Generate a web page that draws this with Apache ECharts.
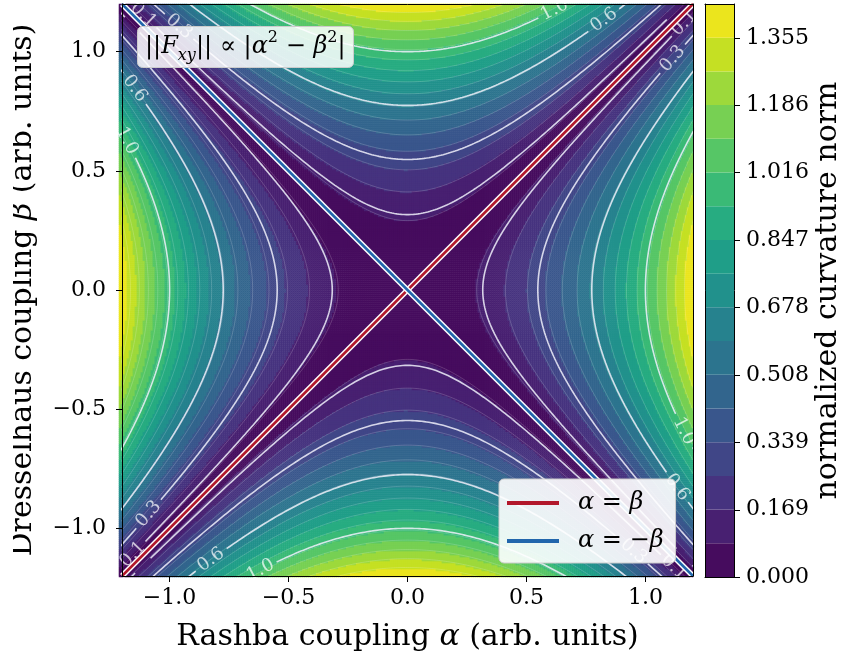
<!DOCTYPE html>
<html>
<head>
<meta charset="utf-8">
<script src="https://cdn.jsdelivr.net/npm/echarts@6/dist/echarts.min.js"></script>
<style>
  html, body { margin: 0; padding: 0; background: #fff; }
  #chart { width: 845px; height: 657px; }
</style>
</head>
<body>
<div id="chart"></div>
<script>
// axis ranges and sampling of the map
const alphaRange = [-1.2, 1.2]
const betaRange = [-1.2, 1.2]
const cellsPerAxis = 288
// filled contour levels: 17 bands from 0 to 1.44
const levelCount = 17
const levelMax = 1.44
// white labelled contours
const labeledLevels = [0.1, 0.3, 0.6, 1.0]
// where the contour labels sit: [level, branch, position along the branch]
const labelSpots = [
  [0.1, 'top', -1.11], [0.1, 'right', 1.12], [0.1, 'left', -1.11], [0.1, 'bottom', 1.12],
  [0.3, 'top', -0.96], [0.3, 'right', 0.97], [0.3, 'left', -0.94], [0.3, 'bottom', 0.95],
  [0.6, 'left', 0.845], [0.6, 'top', 0.826], [0.6, 'bottom', -0.826], [0.6, 'right', -0.828],
  [1.0, 'left', 0.626], [1.0, 'top', 0.618], [1.0, 'bottom', -0.618], [1.0, 'right', -0.592]
]
const axisTicks = [-1.0, -0.5, 0.0, 0.5, 1.0]
const colorbarTicks = [0.000, 0.169, 0.339, 0.508, 0.678, 0.847, 1.016, 1.186, 1.355]
const lineAlphaEqBeta = [[-1.2, -1.2], [1.2, 1.2]]
const lineAlphaEqMinusBeta = [[-1.2, 1.2], [1.2, -1.2]]

const FONT = 'DejaVu Serif'

// viridis colour stops (style helper)
const viridisStops = ['#440154', '#471365', '#482475', '#463480', '#414487', '#3b528b', '#355f8d',
  '#2f6c8e', '#2a788e', '#25848e', '#21918c', '#1e9c89', '#22a884', '#2fb47c', '#44bf70',
  '#5ec962', '#7ad151', '#9bd93c', '#bddf26', '#dfe318', '#fde725']
const viridis = (t) => {
  const pos = Math.min(Math.max(t, 0), 1) * (viridisStops.length - 1)
  const i = Math.min(Math.floor(pos), viridisStops.length - 2)
  const f = pos - i
  const a = viridisStops[i], b = viridisStops[i + 1]
  const ch = (h, k) => parseInt(h.substr(1 + 2 * k, 2), 16)
  const c = [0, 1, 2].map(k => Math.round(ch(a, k) + (ch(b, k) - ch(a, k)) * f))
  return `rgb(${c[0]},${c[1]},${c[2]})`
}

const levelStep = levelMax / levelCount
const levels = []
for (let k = 0; k <= levelCount; k++) levels.push(k * levelStep)
const bandColors = []
for (let k = 0; k < levelCount; k++) bandColors.push(viridis((k + 0.5) / levelCount))

// curvature norm on the grid: |alpha^2 - beta^2|
const cellIndex = []
for (let i = 0; i < cellsPerAxis; i++) cellIndex.push(i)
const cellCentre = (range, i) => range[0] + (i + 0.5) * (range[1] - range[0]) / cellsPerAxis
const fieldData = []
for (let i = 0; i < cellsPerAxis; i++) {
  const a = cellCentre(alphaRange, i)
  for (let j = 0; j < cellsPerAxis; j++) {
    const b = cellCentre(betaRange, j)
    fieldData.push([i, j, Math.abs(a * a - b * b)])
  }
}

// iso-lines of the same map
const branchPoint = (c, branch, t) => {
  const r = Math.sqrt(t * t + c)
  if (branch === 'left') return [-r, t]
  if (branch === 'right') return [r, t]
  if (branch === 'top') return [t, r]
  return [t, -r]
}
const branchTangent = (c, branch, t) => {
  const r = Math.sqrt(t * t + c)
  if (branch === 'left') return [-t / r, 1]
  if (branch === 'right') return [t / r, 1]
  if (branch === 'top') return [1, t / r]
  return [1, -t / r]
}
const pxX = 574 / 2.4, pxY = 573 / 2.4
const gapRadius = 18

const isoLine = (c, spots) => {
  const pts = []
  const centres = spots.map(s => branchPoint(s[0], s[1], s[2]))
  ;['left', 'right', 'top', 'bottom'].forEach(branch => {
    for (let t = -1.3; t <= 1.3001; t += 0.005) {
      const p = branchPoint(c, branch, t)
      const hidden = centres.some(q => Math.hypot((p[0] - q[0]) * pxX, (p[1] - q[1]) * pxY) < gapRadius)
      pts.push(hidden ? null : p)
    }
    pts.push(null)
  })
  return pts
}

const series = []
series.push({
  type: 'heatmap',
  xAxisIndex: 0,
  yAxisIndex: 0,
  data: fieldData,
  progressive: 0,
  silent: true,
  emphasis: { disabled: true }
})
levels.slice(1, -1).forEach(c => {
  series.push({
    type: 'line',
    name: 'level-' + c.toFixed(3),
    xAxisIndex: 1,
    yAxisIndex: 1,
    data: isoLine(c, []),
    symbol: 'none',
    silent: true,
    connectNulls: false,
    lineStyle: { color: 'rgba(255,255,255,0.3)', width: 0.6 }
  })
})
labeledLevels.forEach(c => {
  const spots = labelSpots.filter(s => s[0] === c)
  series.push({
    type: 'line',
    name: 'contour-' + c,
    xAxisIndex: 1,
    yAxisIndex: 1,
    data: isoLine(c, spots),
    symbol: 'none',
    silent: true,
    connectNulls: false,
    lineStyle: { color: 'rgba(240,240,250,0.85)', width: 1.6 }
  })
})
series.push({
  type: 'scatter',
  name: 'contour-labels',
  xAxisIndex: 1,
  yAxisIndex: 1,
  symbolSize: 1,
  silent: true,
  itemStyle: { color: 'rgba(0,0,0,0)' },
  label: {
    show: true,
    position: 'inside',
    formatter: '{b}',
    color: 'rgba(255,255,255,0.9)',
    fontFamily: FONT,
    fontSize: 18
  },
  data: labelSpots.map(s => {
    const tg = branchTangent(s[0], s[1], s[2])
    let ang = Math.atan2(tg[1] * pxY, tg[0] * pxX) * 180 / Math.PI
    if (ang > 90) ang -= 180
    if (ang < -90) ang += 180
    return { name: s[0].toFixed(1), value: branchPoint(s[0], s[1], s[2]), label: { rotate: ang } }
  })
})
const diagonal = (name, data, color) => {
  series.push({
    type: 'line', name: name + '-outline', xAxisIndex: 1, yAxisIndex: 1, data,
    symbol: 'none', silent: true, lineStyle: { color: '#ffffff', width: 5.5 }
  })
  series.push({
    type: 'line', name, xAxisIndex: 1, yAxisIndex: 1, data, color,
    symbol: 'none', silent: true, lineStyle: { color, width: 2.5 }
  })
}
diagonal('α = β', lineAlphaEqBeta, '#b2182b')
diagonal('α = −β', lineAlphaEqMinusBeta, '#2166ac')

bandColors.forEach((color, k) => {
  series.push({
    type: 'bar',
    name: 'band-' + k,
    xAxisIndex: 3,
    yAxisIndex: 3,
    stack: 'colorbar',
    barWidth: '100%',
    silent: true,
    data: [levelStep],
    itemStyle: { color }
  })
})

const tickFmt = v => (v < 0 ? '−' : '') + Math.abs(v).toFixed(1)
const axisLineStyle = { show: true, onZero: false, lineStyle: { color: '#000', width: 1 } }
const tickText = { fontFamily: FONT, fontSize: 22, color: '#000' }
const nameText = {
  fontFamily: FONT, fontSize: 30, color: '#000',
  rich: { i: { fontFamily: FONT, fontSize: 30, fontStyle: 'italic', color: '#000' } }
}

const option = {
  animation: false,
  backgroundColor: '#fff',
  title: {
    text: '||{it|F}{sub|xy}|| ∝ |{it|α}{sup|2} − {it|β}{sup|2}|',
    left: 137,
    top: 26,
    padding: [4, 8, 4, 8],
    backgroundColor: 'rgba(255,255,255,0.85)',
    borderColor: '#cccccc',
    borderWidth: 1,
    borderRadius: 5,
    textStyle: {
      fontFamily: FONT, fontSize: 24, fontWeight: 'normal', color: '#000', lineHeight: 34,
      rich: {
        it: { fontFamily: FONT, fontSize: 24, fontStyle: 'italic', color: '#000', lineHeight: 34 },
        sub: { fontFamily: FONT, fontSize: 16, fontStyle: 'italic', color: '#000', verticalAlign: 'bottom', lineHeight: 16 },
        sup: { fontFamily: FONT, fontSize: 16, color: '#000', verticalAlign: 'top', lineHeight: 16 }
      }
    }
  },
  legend: {
    data: ['α = β', 'α = −β'],
    orient: 'vertical',
    left: 499,
    top: 479,
    padding: [12, 12, 10, 8],
    itemGap: 14,
    itemWidth: 52,
    itemHeight: 4,
    icon: 'rect',
    backgroundColor: 'rgba(255,255,255,0.9)',
    borderColor: '#cccccc',
    borderWidth: 1,
    borderRadius: 5,
    formatter: name => name === 'α = β' ? '{s|}{i|α} = {i|β}' : '{s|}{i|α} = −{i|β}',
    textStyle: {
      fontFamily: FONT, fontSize: 24, color: '#000',
      rich: {
        s: { width: 14 },
        i: { fontFamily: FONT, fontSize: 24, fontStyle: 'italic', color: '#000' }
      }
    }
  },
  visualMap: {
    type: 'piecewise',
    show: false,
    seriesIndex: 0,
    pieces: bandColors.map((color, k) => ({ gte: levels[k], lt: k === levelCount - 1 ? levelMax + 1 : levels[k + 1], color }))
  },
  // the reference figure cuts the left edge of the y-axis title
  graphic: [{ type: 'rect', left: 0, top: 0, z: 100, shape: { width: 13, height: 657 }, style: { fill: '#fff' } }],
  grid: [
    { left: 119, top: 4, width: 574, height: 573 },
    { left: 119, top: 4, width: 574, height: 573 },
    { left: 705, top: 4, width: 29, height: 573 }
  ],
  xAxis: [
    { gridIndex: 0, type: 'category', data: cellIndex, show: false },
    {
      gridIndex: 1, type: 'value', min: alphaRange[0], max: alphaRange[1], position: 'bottom', z: 10,
      axisLine: axisLineStyle,
      axisTick: { show: true, customValues: axisTicks, length: 6, lineStyle: { color: '#000' } },
      axisLabel: { customValues: axisTicks, formatter: tickFmt, margin: 11, ...tickText },
      splitLine: { show: false },
      name: 'Rashba coupling {i|α} (arb. units)',
      nameLocation: 'middle',
      nameGap: 46,
      nameTextStyle: nameText
    },
    {
      gridIndex: 1, type: 'value', min: alphaRange[0], max: alphaRange[1], position: 'top', z: 10,
      axisLine: axisLineStyle, axisTick: { show: false }, axisLabel: { show: false }, splitLine: { show: false }
    },
    {
      gridIndex: 2, type: 'category', data: ['cb'], position: 'bottom', z: 10,
      axisLine: axisLineStyle, axisTick: { show: false }, axisLabel: { show: false }
    },
    {
      gridIndex: 2, type: 'category', data: ['cb'], position: 'top', z: 10,
      axisLine: axisLineStyle, axisTick: { show: false }, axisLabel: { show: false }
    }
  ],
  yAxis: [
    { gridIndex: 0, type: 'category', data: cellIndex, show: false },
    {
      gridIndex: 1, type: 'value', min: betaRange[0], max: betaRange[1], position: 'left', z: 10,
      axisLine: axisLineStyle,
      axisTick: { show: true, customValues: axisTicks, length: 6, lineStyle: { color: '#000' } },
      axisLabel: { customValues: axisTicks, formatter: tickFmt, margin: 16, ...tickText },
      splitLine: { show: false },
      name: 'Dresselhaus coupling {i|β} (arb. units)',
      nameLocation: 'middle',
      nameRotate: 90,
      nameGap: 84,
      nameTextStyle: nameText
    },
    {
      gridIndex: 1, type: 'value', min: betaRange[0], max: betaRange[1], position: 'right', z: 10,
      axisLine: axisLineStyle, axisTick: { show: false }, axisLabel: { show: false }, splitLine: { show: false }
    },
    {
      gridIndex: 2, type: 'value', min: 0, max: levelMax, position: 'right', z: 10,
      axisLine: axisLineStyle,
      axisTick: { show: true, customValues: colorbarTicks, length: 6, lineStyle: { color: '#000' } },
      axisLabel: { customValues: colorbarTicks, formatter: v => v.toFixed(3), margin: 12, ...tickText },
      splitLine: { show: false },
      name: 'normalized curvature norm',
      nameLocation: 'middle',
      nameRotate: 90,
      nameGap: 79,
      nameTextStyle: nameText
    },
    {
      gridIndex: 2, type: 'value', min: 0, max: levelMax, position: 'left', z: 10,
      axisLine: axisLineStyle, axisTick: { show: false }, axisLabel: { show: false }, splitLine: { show: false }
    }
  ],
  series
}

const chart = echarts.init(document.getElementById('chart'), null, { renderer: 'canvas' })
chart.setOption(option)
</script>
</body>
</html>
